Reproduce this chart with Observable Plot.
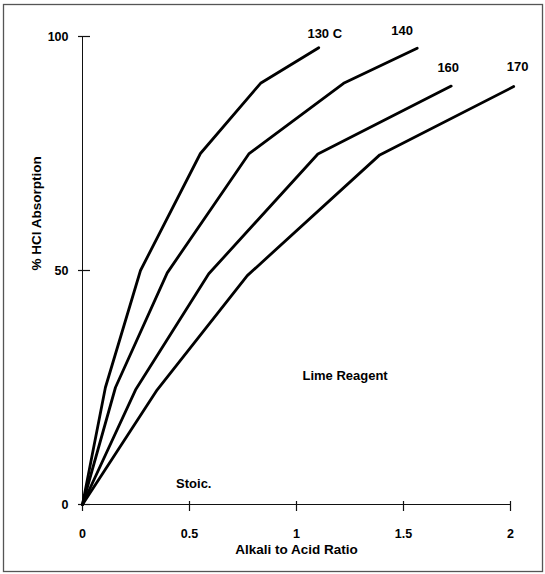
<!DOCTYPE html>
<html>
<head>
<meta charset="utf-8">
<script src="https://cdn.jsdelivr.net/npm/d3@7"></script>
<script src="https://cdn.jsdelivr.net/npm/@observablehq/plot@0.6"></script>
<style>
  html, body { margin: 0; padding: 0; background: #fff; }
  #chart svg { display: block; }
</style>
</head>
<body>
<div id="chart"></div>
<script>
// ---- Data ----
const seriesNames = ["130", "140", "160", "170"];
const seriesLabels = ["130 C", "140", "160", "170"];
const ratio130 = [0, 0.107, 0.271, 0.551, 0.832, 1.104];
const absorb130 = [0, 25, 50, 75, 90, 97.6];
const ratio140 = [0, 0.154, 0.396, 0.777, 1.22, 1.564];
const absorb140 = [0, 25, 49.5, 74.9, 90, 97.5];
const ratio160 = [0, 0.248, 0.59, 1.10, 1.723];
const absorb160 = [0, 24.5, 49.3, 74.9, 89.4];
const ratio170 = [0, 0.349, 0.77, 1.389, 2.015];
const absorb170 = [0, 24.5, 48.9, 74.7, 89.3];
const xTicks = [0, 0.5, 1, 1.5, 2];
const xTickLabels = ["0", "0.5", "1", "1.5", "2"];
const yTicks = [0, 50, 100];
const yTickLabels = ["0", "50", "100"];
const xTitle = ["Alkali to Acid Ratio"];
const yTitle = ["% HCl Absorption"];
const notes = ["Lime Reagent", "Stoic."];
const noteX = [1.227, 0.52];
const noteY = [27.4, 4.5];

// ---- Build table ----
const ratios = [ratio130, ratio140, ratio160, ratio170];
const absorbs = [absorb130, absorb140, absorb160, absorb170];
const rows = [];
seriesNames.forEach((s, i) => {
  ratios[i].forEach((x, j) => rows.push({series: s, x, y: absorbs[i][j]}));
});
const lastPoints = seriesNames.map((s, i) => ({
  series: s,
  label: seriesLabels[i],
  x: ratios[i][ratios[i].length - 1],
  y: absorbs[i][absorbs[i].length - 1]
}));
const labelOffsets = {"130": [6, -14], "140": [-15, -17], "160": [-3, -18], "170": [4, -20]};
const noteRows = notes.map((t, i) => ({text: t, x: noteX[i], y: noteY[i]}));

const font = "'Liberation Sans', Arial, Helvetica, sans-serif";

const chart = Plot.plot({
  width: 545,
  height: 574,
  marginLeft: 82,
  marginRight: 35,
  marginTop: 36,
  marginBottom: 70,
  style: {fontFamily: font, fontWeight: "bold", fontSize: "12px", background: "#fff", color: "#000"},
  x: {domain: [0, 2], axis: null},
  y: {domain: [0, 100], axis: null},
  marks: [
    // outer border of the figure
    Plot.frame({stroke: "#555", strokeWidth: 1.3, insetLeft: -79, insetRight: -32, insetTop: -32, insetBottom: -67}),
    // axis lines
    Plot.ruleX([0], {stroke: "#111", strokeWidth: 1}),
    Plot.ruleY([0], {stroke: "#111", strokeWidth: 1}),
    // crossing ticks
    Plot.ruleX(xTicks, {x: d => d, y1: 0, y2: 0, insetTop: -3, insetBottom: -7, stroke: "#111", strokeWidth: 1.2}),
    Plot.ruleY(yTicks, {y: d => d, x1: 0, x2: 0, insetLeft: -4, insetRight: -8, stroke: "#111", strokeWidth: 1.2}),
    // tick labels
    Plot.text(xTicks, {x: d => d, y: 0, text: (d, i) => xTickLabels[i], dy: 29, fontSize: 12.5}),
    Plot.text(yTicks, {x: 0, y: d => d, text: (d, i) => yTickLabels[i], textAnchor: "end", dx: -14, fontSize: 12.5}),
    // axis titles
    Plot.text(xTitle, {frameAnchor: "bottom", text: d => d, dy: 49, fontSize: 13.5}),
    Plot.text(yTitle, {frameAnchor: "left", text: d => d, dx: -46, rotate: -90, fontSize: 13.5}),
    // curves
    Plot.line(rows, {x: "x", y: "y", z: "series", stroke: "#000", strokeWidth: 2.8, strokeLinejoin: "round", strokeLinecap: "round"}),
    // curve labels
    ...lastPoints.map(p => Plot.text([p], {x: "x", y: "y", text: "label", dx: labelOffsets[p.series][0], dy: labelOffsets[p.series][1], fontSize: 13})),
    // annotations
    Plot.text(noteRows, {x: "x", y: "y", text: "text", fontSize: 13})
  ]
});
document.getElementById("chart").appendChild(chart);
</script>
</body>
</html>
